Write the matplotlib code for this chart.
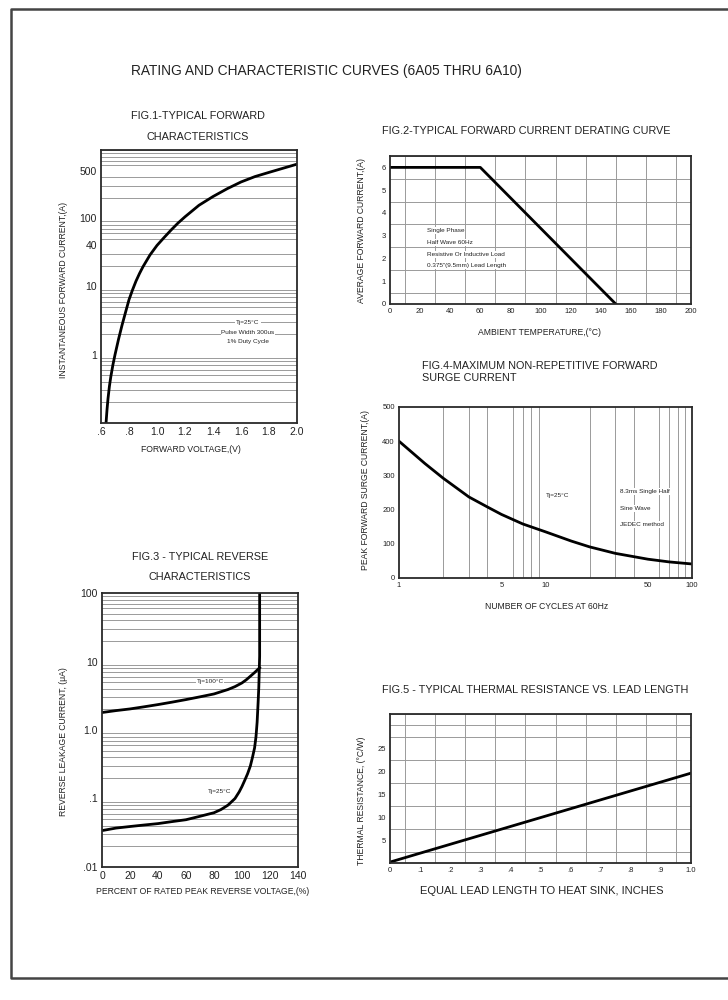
import numpy as np
import matplotlib
matplotlib.use("Agg")
import matplotlib.pyplot as plt
from matplotlib.lines import Line2D

plt.rcParams['font.family'] = ['Liberation Sans', 'DejaVu Sans']

W, H = 728, 1000

# FIG.1 forward characteristics
fwd_v = [0.636, 0.643, 0.65, 0.66, 0.67, 0.685, 0.70, 0.725, 0.75, 0.775, 0.80,
         0.825, 0.85, 0.875, 0.90, 0.95, 1.0, 1.05, 1.1, 1.15, 1.2,
         1.3, 1.4, 1.5, 1.6, 1.7, 1.8, 1.9, 2.0]
fwd_i = [0.1, 0.157, 0.227, 0.344, 0.475, 0.71, 1.0, 1.68, 2.7, 4.17, 6.4,
         8.9, 12, 15.5, 19.5, 29, 40, 52, 67, 85, 105,
         155, 208, 270, 340, 408, 470, 540, 620]

# FIG.2 derating
amb_t = [0, 60, 150]
avg_i = [6, 6, 0]

# FIG.3 reverse characteristics
rev_pct_100 = [0, 10, 20, 30, 40, 50, 60, 70, 80, 90, 95, 100, 103, 106, 109, 112.6]
rev_i_100 = [1.8, 1.92, 2.03, 2.18, 2.35, 2.55, 2.78, 3.05, 3.36, 3.9, 4.3, 4.87, 5.4, 6.1, 6.9, 8.1]
rev_pct_25 = [0, 10, 20, 30, 40, 50, 60, 70, 80, 85, 90, 95, 98, 100, 102, 104,
              106, 107.5, 109, 110, 110.8, 111.5, 112, 112.3, 112.6, 112.6]
rev_i_25 = [0.034, 0.037, 0.039, 0.041, 0.043, 0.046, 0.049, 0.055, 0.062, 0.069,
            0.08, 0.1, 0.125, 0.15, 0.185, 0.23, 0.3, 0.4, 0.55, 0.8, 1.3, 2.5,
            4.2, 7.0, 12, 100]

# FIG.4 surge current
cycles = [1, 1.5, 2, 3, 4, 5, 7, 10, 15, 20, 30, 50, 70, 100]
surge = [400, 335, 292, 237, 208, 186, 158, 135, 108, 91, 72, 55, 47, 41]

# FIG.5 thermal resistance
lead_len = [0, 1.0]
therm_r = [0.2, 19.6]

GRID = '#9a9a9a'
FRAME = '#2a2a2a'
TITLE_FS = 7.8
LABEL_FS = 6.2
NOTE_FS = 4.6

fig = plt.figure(figsize=(W / 100, H / 100), dpi=100)


def box(l, t, r, b):
    return [l / W, 1 - b / H, (r - l) / W, (b - t) / H]


def txt(x, y, s, size, ha='center', rot=0, bg=False, **kw):
    kw2 = dict(fontsize=size, ha=ha, va='center', rotation=rot, color='#222222')
    if bg:
        kw2['bbox'] = dict(facecolor='white', edgecolor='none', pad=0.6)
    kw2.update(kw)
    fig.text(x / W, 1 - y / H, s, **kw2)


def style(ax, fs):
    for s in ax.spines.values():
        s.set_color(FRAME)
        s.set_linewidth(1.3)
    ax.tick_params(which='both', length=0, labelsize=fs, pad=3, colors='#222222')
    ax.grid(which='minor', color=GRID, lw=0.7)
    ax.grid(which='major', visible=False)
    ax.set_axisbelow(True)


def logsubs(lo, hi):
    out = []
    d = lo
    while d < hi:
        out += [d * k for k in range(1, 10)]
        d *= 10
    out.append(hi)
    return out


# border of page
fig.add_artist(Line2D([1.01, 11 / W, 11 / W, 1.01], [1 - 9 / H, 1 - 9 / H, 1 - 978 / H, 1 - 978 / H],
                      transform=fig.transFigure, color='#444444', lw=1.8))

txt(131, 71, 'RATING AND CHARACTERISTIC CURVES (6A05 THRU 6A10)', 9.9, ha='left')

# ---- FIG.1
ax = fig.add_axes(box(101, 150, 297, 423))
ax.set_yscale('log')
ax.set_xlim(0.6, 2.0)
ax.set_ylim(0.1, 1000)
ax.set_xticks(np.arange(0.6, 2.01, 0.2))
ax.set_xticklabels(['.6', '.8', '1.0', '1.2', '1.4', '1.6', '1.8', '2.0'])
ax.set_xticks(np.arange(0.6, 2.01, 0.2), minor=True)
ax.set_yticks([1, 10, 40, 100, 500])
ax.set_yticklabels(['1', '10', '40', '100', '500'])
ax.set_yticks(logsubs(0.1, 1000), minor=True)
ax.yaxis.set_minor_formatter(plt.NullFormatter())
style(ax, 7.5)
ax.plot(fwd_v, fwd_i, color='black', lw=2)
txt(197.7, 115.7, 'FIG.1-TYPICAL FORWARD', TITLE_FS)
txt(197.7, 136.7, 'CHARACTERISTICS', TITLE_FS)
txt(191, 450, 'FORWARD VOLTAGE,(V)', LABEL_FS)
txt(63, 290, 'INSTANTANEOUS FORWARD CURRENT,(A)', LABEL_FS, rot=90)
txt(248, 322, 'Tj=25\u00b0C', NOTE_FS, bg=True)
txt(248, 333, 'Pulse Width 300us', NOTE_FS, bg=True)
txt(248, 341, '1% Duty Cycle', NOTE_FS, bg=True)

# ---- FIG.2
ax = fig.add_axes(box(390, 156, 691, 304))
ax.set_xlim(0, 200)
ax.set_ylim(0, 6.5)
ax.set_xticks(np.arange(0, 201, 20))
ax.set_yticks(np.arange(0, 7, 1))
ax.set_xticks(np.arange(0, 201, 10), minor=True)
ax.set_yticks(np.arange(0, 6.6, 0.5), minor=True)
style(ax, 5.5)
ax.plot(amb_t, avg_i, color='black', lw=2)
txt(526.7, 131, 'FIG.2-TYPICAL FORWARD CURRENT DERATING CURVE', TITLE_FS)
txt(540, 332.7, 'AMBIENT TEMPERATURE,(\u00b0C)', LABEL_FS)
txt(361.7, 230.7, 'AVERAGE FORWARD CURRENT,(A)', LABEL_FS, rot=90)
for yy, s in [(230.7, 'Single Phase'), (242.7, 'Half Wave 60Hz'),
              (254.3, 'Resistive Or Inductive Load'), (265.7, '0.375"(9.5mm) Lead Length')]:
    txt(427, yy, s, NOTE_FS, ha='left', bg=True)

# ---- FIG.4
ax = fig.add_axes(box(399, 407, 692, 578))
ax.set_xscale('log')
ax.set_xlim(1, 100)
ax.set_ylim(0, 500)
ax.set_xticks([1, 5, 10, 50, 100])
ax.set_xticklabels(['1', '5', '10', '50', '100'])
ax.set_xticks(logsubs(1, 100), minor=True)
ax.xaxis.set_minor_formatter(plt.NullFormatter())
ax.set_yticks(np.arange(0, 501, 100))
ax.set_yticks(np.arange(0, 501, 100), minor=True)
style(ax, 5.5)
ax.plot(cycles, surge, color='black', lw=2)
txt(421.7, 366, 'FIG.4-MAXIMUM NON-REPETITIVE FORWARD', TITLE_FS, ha='left')
txt(421.7, 377.7, 'SURGE CURRENT', TITLE_FS, ha='left')
txt(546.7, 606.7, 'NUMBER OF CYCLES AT 60Hz', LABEL_FS)
txt(365.7, 490, 'PEAK FORWARD SURGE CURRENT,(A)', LABEL_FS, rot=90)
txt(558, 495.7, 'Tj=25\u00b0C', NOTE_FS, bg=True)
for yy, s in [(491.7, '8.3ms Single Half'), (508.3, 'Sine Wave'), (524.3, 'JEDEC method')]:
    txt(619.5, yy, s, NOTE_FS, ha='left', bg=True)

# ---- FIG.3
ax = fig.add_axes(box(102, 593, 298, 867))
ax.set_yscale('log')
ax.set_xlim(0, 140)
ax.set_ylim(0.01, 100)
ax.set_xticks(np.arange(0, 141, 20))
ax.set_xticks(np.arange(0, 141, 20), minor=True)
ax.set_yticks([0.01, 0.1, 1, 10, 100])
ax.set_yticklabels(['.01', '.1', '1.0', '10', '100'])
ax.set_yticks(logsubs(0.01, 100), minor=True)
ax.yaxis.set_minor_formatter(plt.NullFormatter())
style(ax, 7.5)
ax.plot(rev_pct_100, rev_i_100, color='black', lw=2)
ax.plot(rev_pct_25, rev_i_25, color='black', lw=2)
txt(200, 556.7, 'FIG.3 - TYPICAL REVERSE', TITLE_FS)
txt(200, 577.3, 'CHARACTERISTICS', TITLE_FS)
txt(203, 891.7, 'PERCENT OF RATED PEAK REVERSE VOLTAGE,(%)', LABEL_FS)
txt(63, 742, 'REVERSE LEAKAGE CURRENT, (\u03bcA)', LABEL_FS, rot=90)
txt(210, 681, 'Tj=100\u00b0C', NOTE_FS, bg=True)
txt(219.3, 791, 'Tj=25\u00b0C', NOTE_FS, bg=True)

# ---- FIG.5
ax = fig.add_axes(box(390, 714, 691, 863))
ax.set_xlim(0, 1.0)
ax.set_ylim(0, 32.5)
ax.set_xticks(np.arange(0, 1.01, 0.1))
ax.set_xticklabels(['0', '.1', '.2', '.3', '.4', '.5', '.6', '.7', '.8', '.9', '1.0'])
ax.set_yticks([5, 10, 15, 20, 25])
ax.set_xticks(np.arange(0, 1.01, 0.05), minor=True)
ax.set_yticks(np.arange(0, 32.6, 2.5), minor=True)
style(ax, 5.5)
ax.plot(lead_len, therm_r, color='black', lw=2)
txt(535, 690, 'FIG.5 - TYPICAL THERMAL RESISTANCE VS. LEAD LENGTH', TITLE_FS)
txt(541.7, 890.7, 'EQUAL LEAD LENGTH TO HEAT SINK, INCHES', 8.0)
txt(361.7, 800.7, 'THERMAL RESISTANCE, (\u00b0C/W)', LABEL_FS, rot=90)

fig.savefig('out.png', dpi=100)
